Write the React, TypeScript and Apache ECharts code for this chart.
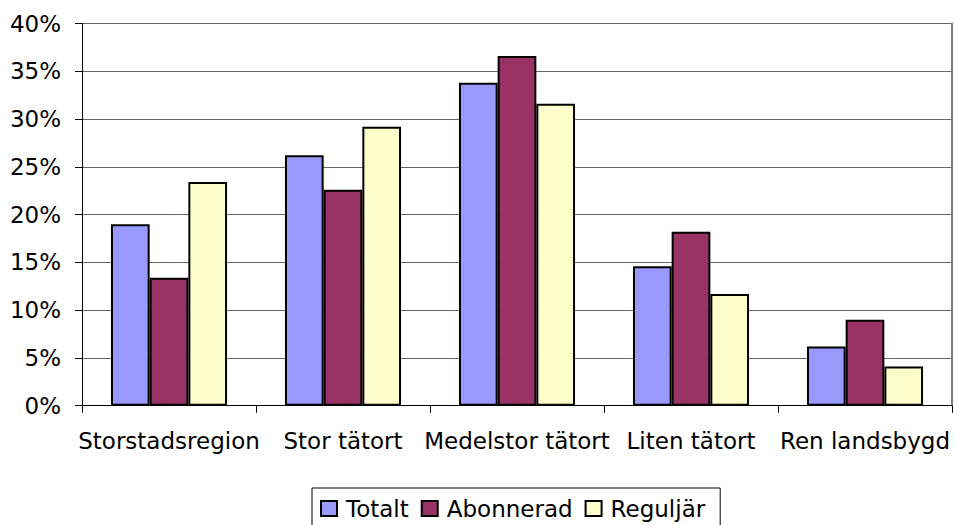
import React, { useEffect, useRef } from "react";
import * as echarts from "echarts";

const categories = ["Storstadsregion", "Stor tätort", "Medelstor tätort", "Liten tätort", "Ren landsbygd"];
const totalt = [19.0, 26.2, 33.8, 14.6, 6.2];
const abonnerad = [13.4, 22.6, 36.6, 18.2, 9.0];
const reguljar = [23.4, 29.2, 31.6, 11.7, 4.1];
const seriesNames = ["Totalt", "Abonnerad", "Reguljär"];
const seriesColors = ["#9999FF", "#993366", "#FFFFCC"];

const FONT = "'DejaVu Sans', 'Liberation Sans', Arial, sans-serif";

export default function App() {
  const ref = useRef<HTMLDivElement>(null);
  useEffect(() => {
    if (!ref.current) return;
    const chart = echarts.init(ref.current, null, { renderer: "svg" });
    const data = [totalt, abonnerad, reguljar];
    chart.setOption({
      animation: false,
      backgroundColor: "#ffffff",
      textStyle: { fontFamily: FONT },
      grid: { left: 82, right: 2, top: 23.5, bottom: 119.3, containLabel: false },
      legend: {
        left: 312,
        top: 488,
        orient: "horizontal",
        itemWidth: 16,
        itemHeight: 15,
        itemGap: 12,
        padding: [9, 15, 10, 8],
        borderColor: "#000",
        borderWidth: 1,
        textStyle: { fontFamily: FONT, fontSize: 23, color: "#000", padding: [0, 0, 0, 4] },
        data: seriesNames.map((n) => ({ name: n, icon: "rect", itemStyle: { borderColor: "#000", borderWidth: 2 } })),
      },
      xAxis: {
        type: "category",
        data: categories,
        axisLine: { lineStyle: { color: "#000", width: 1 } },
        axisTick: { show: true, length: 7, alignWithLabel: false, lineStyle: { color: "#000" } },
        axisLabel: { fontFamily: FONT, fontSize: 23, color: "#000", margin: 24, interval: 0 },
        splitLine: { show: false },
      },
      yAxis: [
        {
          type: "value",
          min: 0,
          max: 40,
          interval: 5,
          axisLine: { show: true, lineStyle: { color: "#000", width: 1 } },
          axisTick: { show: true, length: 7, lineStyle: { color: "#000" } },
          axisLabel: { fontFamily: FONT, fontSize: 23, color: "#000", margin: 21, formatter: "{value}%" },
          splitLine: { show: true, lineStyle: { color: "#666", width: 1 } },
        },
        {
          type: "value",
          position: "right",
          min: 0,
          max: 40,
          interval: 5,
          axisLine: { show: true, lineStyle: { color: "#808080", width: 2 } },
          axisTick: { show: false },
          axisLabel: { show: false },
          splitLine: { show: false },
        },
      ],
      series: seriesNames.map((name, i) => ({
        name,
        type: "bar",
        data: data[i],
        barGap: "0%",
        barCategoryGap: "33.3%",
        itemStyle: { color: seriesColors[i], borderColor: "#000", borderWidth: 2 },
      })),
    });
    return () => chart.dispose();
  }, []);
  return (
    <div
      ref={ref}
      style={{ position: "fixed", left: 0, top: 0, width: 954, height: 525, background: "#fff" }}
    />
  );
}
